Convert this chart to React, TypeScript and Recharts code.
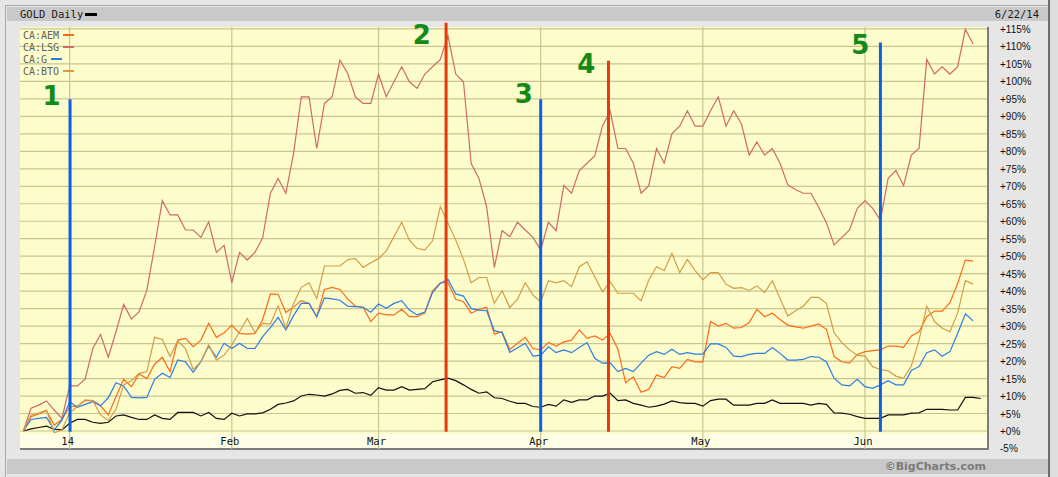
import React from 'react';
import { ComposedChart, Line, XAxis, YAxis, CartesianGrid, ReferenceLine, ReferenceDot } from 'recharts';

// trading-day index 0 = Dec 20 2013, last = Jun 20 2014
const monthTicks = [6, 27, 46, 67, 88, 109];
const monthLabels = ['14', 'Feb', 'Mar', 'Apr', 'May', 'Jun'];
const pctTicks = [-5, 0, 5, 10, 15, 20, 25, 30, 35, 40, 45, 50, 55, 60, 65, 70, 75, 80, 85, 90, 95, 100, 105, 110, 115];
const gridPct = [0, 5, 10, 15, 20, 25, 30, 35, 40, 45, 50, 55, 60, 65, 70, 75, 80, 85, 90, 95, 100, 105, 110, 115];

const aem = [
  0, 4.1, 4.9, 5.8, 1.7, 3.3, 7.0, 7.1, 8.7, 8.7, 7.2, 4.6, 9.8, 14.8, 12.7, 16.3, 15.0, 19.1, 21.1, 17.0,
  26.0, 26.5, 24.1, 26.0, 30.8, 26.8, 28.1, 30.2, 27.9, 27.7, 27.9, 31.9, 39.2, 39.1, 33.9, 35.5, 37.3, 36.5, 32.7, 40.5,
  41.1, 40.5, 37.8, 35.7, 35.4, 31.3, 33.7, 33.2, 33.2, 34.8, 32.7, 32.7, 33.8, 40.1, 42.4, 42.4, 37.7, 37.0, 33.7, 34.8,
  35.4, 27.7, 28.4, 23.3, 25.1, 26.8, 23.6, 23.2, 25.3, 24.3, 25.5, 26.0, 28.9, 26.5, 27.2, 26.0, 27.9, 23.4, 13.8, 15.5,
  11.1, 11.9, 16.0, 15.3, 18.4, 17.9, 20.5, 19.8, 19.8, 31.3, 30.0, 30.8, 29.4, 29.6, 31.0, 34.8, 32.7, 33.7, 31.9, 30.3,
  29.8, 29.4, 30.0, 30.6, 29.1, 21.3, 19.8, 19.4, 21.9, 22.7, 23.0, 23.2, 24.3, 24.3, 23.9, 27.2, 28.4, 32.7, 34.3, 34.3,
  36.7, 42.2, 48.9, 48.6,
];
const lsg = [
  0, 6.5, 7.4, 8.6, 6.0, 3.6, 12.9, 12.9, 14.8, 23.6, 27.6, 21.1, 28.4, 36.2, 32.0, 34.1, 40.3, 52.7, 65.9, 61.8,
  61.8, 57.5, 57.5, 55.4, 59.8, 51.1, 53.1, 42.4, 51.1, 48.9, 51.1, 55.3, 68.0, 72.2, 68.0, 79.4, 95.6, 95.6, 80.8, 93.7,
  95.6, 106.1, 102.3, 95.6, 93.7, 93.7, 102.1, 95.6, 99.9, 104.2, 99.9, 98.0, 102.1, 104.2, 106.3, 113.0, 102.1, 99.9, 76.5, 72.3,
  64.2, 46.8, 57.3, 55.6, 59.7, 57.5, 55.4, 51.8, 59.7, 57.3, 70.2, 68.0, 74.5, 76.6, 78.7, 87.2, 91.6, 80.8, 80.8, 76.6,
  68.0, 70.2, 80.8, 76.6, 85.1, 87.2, 91.6, 87.2, 87.2, 91.6, 95.6, 87.2, 91.6, 87.8, 78.9, 82.7, 78.9, 80.8, 76.6, 70.4,
  69.1, 68.0, 68.0, 64.0, 59.6, 53.2, 55.4, 57.5, 63.7, 65.9, 63.7, 60.3, 72.3, 74.5, 70.2, 78.9, 80.8, 106.3, 102.1, 104.2,
  102.1, 104.2, 114.9, 110.7,
];
const g = [
  0, 3.3, 3.6, 3.9, 0.3, 3.1, 8.4, 6.8, 7.6, 8.4, 7.2, 9.5, 13.8, 12.9, 9.6, 9.5, 9.6, 14.8, 16.5, 15.3,
  20.3, 19.8, 16.8, 19.8, 24.3, 21.1, 25.1, 23.6, 25.1, 23.6, 23.6, 27.0, 29.6, 32.5, 28.9, 33.0, 36.5, 36.5, 32.7, 38.1,
  37.8, 37.4, 35.7, 35.6, 35.4, 34.0, 36.3, 35.1, 36.5, 37.3, 34.6, 33.2, 34.0, 39.6, 42.2, 43.4, 39.2, 38.6, 35.0, 34.6,
  34.4, 28.7, 28.1, 22.5, 23.8, 25.1, 21.4, 21.7, 24.1, 22.4, 23.2, 22.4, 23.9, 25.3, 20.8, 19.4, 19.5, 17.0, 17.9, 17.0,
  19.4, 21.7, 22.7, 21.9, 23.4, 21.9, 22.4, 22.0, 22.0, 24.9, 24.9, 23.9, 21.4, 21.3, 21.9, 22.2, 22.2, 23.9, 22.2, 20.3,
  20.3, 20.5, 21.3, 21.1, 19.8, 15.1, 13.2, 12.9, 14.8, 12.7, 12.2, 13.2, 14.4, 13.2, 13.2, 17.3, 18.4, 22.4, 23.2, 21.4,
  22.7, 27.9, 33.5, 31.5,
];
const bto = [
  0, 4.6, 5.1, 6.0, -0.5, 0.3, 5.2, 7.0, 8.9, 8.7, 4.6, 3.0, 6.2, 13.2, 14.4, 16.5, 17.0, 26.8, 26.2, 21.3,
  25.8, 23.6, 17.6, 19.8, 24.6, 20.3, 21.7, 24.6, 28.4, 32.2, 28.1, 30.8, 30.6, 35.8, 29.4, 36.5, 41.1, 42.4, 37.9, 47.2,
  47.2, 47.2, 49.0, 49.4, 46.8, 48.1, 49.3, 51.5, 55.6, 59.7, 54.6, 52.2, 51.8, 54.4, 64.2, 59.4, 54.6, 49.1, 42.4, 43.9,
  43.9, 36.5, 40.1, 35.3, 37.7, 42.4, 38.9, 37.0, 43.0, 42.4, 43.0, 41.3, 47.0, 48.4, 44.1, 39.8, 42.7, 39.4, 39.4, 39.4,
  37.2, 43.2, 47.0, 45.9, 50.8, 45.3, 49.1, 45.9, 43.2, 45.3, 45.3, 42.0, 40.8, 41.0, 40.2, 41.5, 39.6, 43.0, 37.9, 32.9,
  34.4, 35.7, 38.2, 38.2, 36.5, 28.1, 25.3, 23.2, 21.7, 21.4, 18.4, 17.6, 17.2, 15.7, 15.1, 18.6, 26.0, 35.7, 31.3, 29.4,
  28.4, 33.7, 43.0, 42.0,
];
const gold = [
  0, 0.6, 1.0, 1.4, 0.5, 0.3, 2.2, 3.3, 3.3, 2.5, 2.2, 2.5, 4.3, 4.6, 3.9, 3.3, 3.3, 4.6, 3.6, 3.3,
  5.3, 5.3, 5.3, 4.3, 5.3, 3.6, 3.3, 5.1, 4.3, 4.9, 4.9, 5.2, 6.2, 7.6, 8.0, 8.6, 10.0, 10.5, 10.3, 10.0,
  10.6, 11.6, 11.9, 10.8, 11.0, 10.2, 12.4, 11.7, 11.7, 12.7, 11.7, 11.9, 12.1, 14.1, 14.6, 15.1, 14.4, 13.2, 11.9, 10.8,
  11.2, 9.5, 9.3, 8.5, 7.9, 7.9, 7.0, 6.8, 7.6, 7.1, 8.9, 8.2, 8.9, 8.9, 10.0, 10.0, 10.8, 8.7, 8.9, 7.9,
  7.4, 6.8, 7.1, 7.7, 8.6, 8.1, 7.9, 7.9, 7.1, 8.7, 9.1, 9.1, 7.4, 7.4, 7.4, 7.9, 7.9, 8.9, 7.9, 7.9,
  7.9, 7.9, 7.4, 7.9, 7.6, 5.2, 5.1, 4.8, 4.1, 3.6, 3.6, 3.6, 4.6, 4.6, 4.6, 5.1, 5.2, 6.2, 6.2, 6.2,
  6.0, 6.0, 9.6, 9.6, 9.3,
];

// hand-drawn markers on the chart: x = trading-day index, top = % level
const marks = [
  { label: '1', x: 6.05, top: 94.9, color: '#0b5fe8', lx: 3.65, ly: 95.8 },
  { label: '2', x: 54.75, top: 116.8, color: '#e8380e', lx: 51.6, ly: 113.3 },
  { label: '3', x: 67.0, top: 94.9, color: '#0b5fe8', lx: 64.8, ly: 96.5 },
  { label: '4', x: 75.78, top: 105.9, color: '#e8380e', lx: 72.9, ly: 105.0 },
  { label: '5', x: 111.0, top: 111.1, color: '#0b5fe8', lx: 108.4, ly: 110.4 },
];

const series = [
  { key: 'gold', name: 'GOLD', color: '#111111' },
  { key: 'aem', name: 'CA:AEM', color: '#ff6a12' },
  { key: 'lsg', name: 'CA:LSG', color: '#cf6a6a' },
  { key: 'g', name: 'CA:G', color: '#2a7ce8' },
  { key: 'bto', name: 'CA:BTO', color: '#d39c45' },
];

const data = gold.map((v, i) => ({
  i,
  gold: v,
  aem: aem[i],
  lsg: lsg[i],
  g: g[i],
  bto: bto[i],
}));

const mono = '"DejaVu Sans Mono", monospace';

function XTick({ x, payload }: any) {
  const idx = monthTicks.indexOf(payload.value);
  return (
    <text x={x - 2} y={445} textAnchor="middle" fontFamily={mono} fontSize={10.5} fill="#111">
      {monthLabels[idx]}
    </text>
  );
}

function YTick({ y, payload }: any) {
  const v = payload.value;
  return (
    <text x={1000} y={y + 4} textAnchor="start" fontFamily='"Liberation Sans", Arial, sans-serif' fontSize={10} fill="#111">
      {v >= 0 ? `+${v}%` : `${v}%`}
    </text>
  );
}

const box = (s: React.CSSProperties): React.CSSProperties => ({ position: 'absolute', ...s });

export default function App() {
  return (
    <div style={{ position: 'absolute', left: 0, top: 0, width: 1058, height: 477, background: '#e6e6e6', overflow: 'hidden' }}>
      <div style={box({ left: 5, top: 5, width: 1043, height: 1, background: '#a9a9a9' })} />
      <div style={box({ left: 5, top: 5, width: 1, height: 472, background: '#a9a9a9' })} />
      <div style={box({ left: 7, top: 7, width: 1041, height: 14, background: '#c9c9c9' })} />
      <div style={box({ left: 20, top: 27, width: 967, height: 407, background: '#fdfdcc' })} />
      <div style={box({ left: 20, top: 434, width: 967, height: 14, background: '#fefee6' })} />
      <div style={box({ left: 987, top: 27, width: 2, height: 423, background: '#7c7c7c' })} />
      <div style={box({ left: 20, top: 448, width: 969, height: 2, background: '#7c7c7c' })} />
      <div style={box({ left: 1048, top: 0, width: 2, height: 477, background: '#6c6c6c' })} />
      <div style={box({ left: 1050, top: 0, width: 8, height: 477, background: '#dedede' })} />
      <div style={box({ left: 7, top: 459, width: 1041, height: 15, background: '#c9c9c9' })} />

      <div style={box({ left: 0, top: 0 })}>
        <ComposedChart width={1058} height={477} data={data} margin={{ top: 27, right: 0, bottom: 14, left: 20 }}>
          <CartesianGrid
            stroke="#c9c58f"
            strokeWidth={1.2}
            horizontalValues={gridPct}
            verticalValues={monthTicks}
          />
          <XAxis
            dataKey="i"
            type="number"
            domain={[-0.43, 124.8]}
            allowDataOverflow
            ticks={monthTicks}
            tick={<XTick />}
            tickLine={false}
            axisLine={false}
            height={14}
            interval={0}
          />
          <YAxis
            orientation="right"
            type="number"
            domain={[-5.15, 115.56]}
            allowDataOverflow
            ticks={pctTicks}
            tick={<YTick />}
            tickLine={false}
            axisLine={false}
            width={71}
            interval={0}
          />
          {series.map((s) => (
            <Line
              key={s.key}
              dataKey={s.key}
              name={s.name}
              type="linear"
              stroke={s.color}
              strokeWidth={1.2}
              dot={false}
              isAnimationActive={false}
            />
          ))}
          {marks.map((m) => (
            <ReferenceLine
              key={'l' + m.label}
              segment={[{ x: m.x, y: -0.2 }, { x: m.x, y: m.top }]}
              stroke={m.color}
              strokeWidth={3}
              ifOverflow="visible"
            />
          ))}
          {marks.map((m) => (
            <ReferenceDot
              key={'d' + m.label}
              x={m.lx}
              y={m.ly}
              r={0}
              ifOverflow="visible"
              label={{
                value: m.label,
                position: 'center',
                fill: '#138a17',
                fontSize: 26,
                fontWeight: 'bold',
                fontFamily: '"DejaVu Sans", sans-serif',
              }}
            />
          ))}
        </ComposedChart>
      </div>

      <div style={box({ left: 20, top: 7, height: 14, lineHeight: '14px', fontFamily: mono, fontSize: 10.5, color: '#1a1a1a' })}>
        GOLD Daily
      </div>
      <div style={box({ left: 85, top: 13, width: 12, height: 3, background: '#000' })} />
      <div style={box({ right: 19, top: 7, height: 14, lineHeight: '14px', fontFamily: mono, fontSize: 10.5, color: '#1a1a1a' })}>
        6/22/14
      </div>
      <div style={box({ left: 23, top: 29 })}>
        {series.slice(1).map((s) => (
          <div key={s.key} style={{ display: 'flex', alignItems: 'center', height: 12, fontFamily: mono, fontSize: 10, color: '#606060' }}>
            <span>{s.name}</span>
            <span style={{ display: 'inline-block', width: 11, height: 2.5, marginLeft: 4, background: s.color }} />
          </div>
        ))}
      </div>
      <div style={box({ left: 880, width: 106, top: 459, height: 15, lineHeight: '15px', textAlign: 'right', fontFamily: '"DejaVu Sans", sans-serif', fontWeight: 'bold', fontSize: 11, color: '#7b7b7b' })}>
        ©BigCharts.com
      </div>
    </div>
  );
}
